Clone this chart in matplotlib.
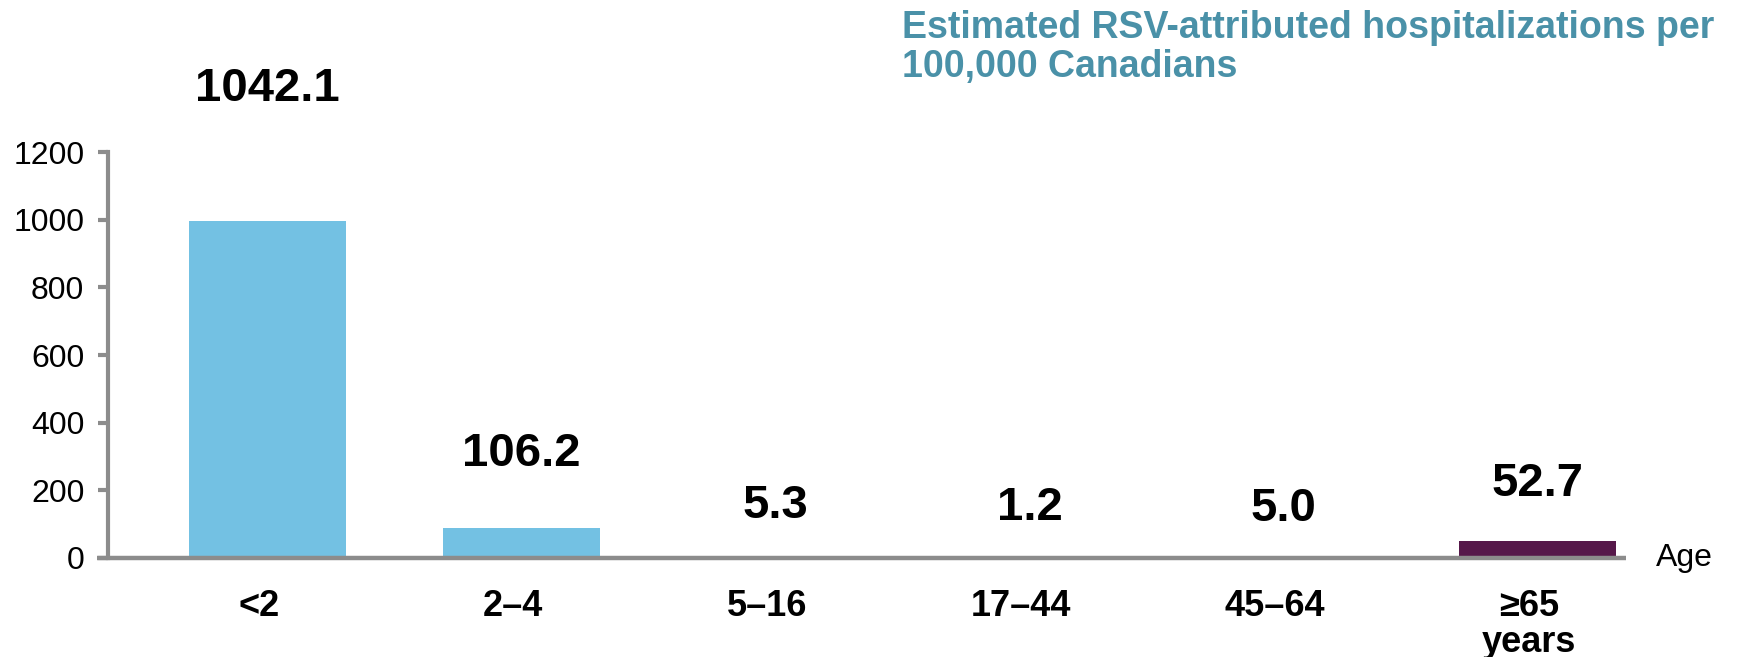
import numpy as np
import matplotlib.pyplot as plt

# age groups and values
age_groups = ["<2", "2\u20134", "5\u201316", "17\u201344", "45\u201364", "\u226565\nyears"]
bar_heights = [995, 89, 5.3, 1.2, 5.0, 50]
value_labels = ["1042.1", "106.2", "5.3", "1.2", "5.0", "52.7"]
bar_colors = ["#73C1E3", "#73C1E3", "#999999", "#999999", "#999999", "#56184A"]
label_offsets = [132, 74, 50, 50, 47, 57]  # px above bar top

AXIS_GRAY = "#8C8C8C"

fig = plt.figure(figsize=(17.5, 6.57), dpi=100)
ax = fig.add_axes([0.0617, 0.1507, 0.8673, 0.6179])

x = np.arange(len(age_groups))
ax.bar(x, bar_heights, width=0.62, color=bar_colors, zorder=2)

ax.set_xlim(-0.627, 5.347)
ax.set_ylim(0, 1200)
ax.set_yticks(np.arange(0, 1201, 200))
ax.tick_params(axis="y", direction="out", length=7, width=3, color=AXIS_GRAY,
               labelsize=23, pad=10)
for lab in ax.get_yticklabels():
    lab.set_fontfamily("Liberation Sans")

ax.set_xticks([])
for s in ["top", "right", "bottom"]:
    ax.spines[s].set_visible(False)
ax.spines["left"].set_color(AXIS_GRAY)
ax.spines["left"].set_linewidth(3)

# x axis line, slightly extending past the y axis
ax.plot([-0.007, 1.0], [0, 0], transform=ax.transAxes, color=AXIS_GRAY,
        lw=3.2, clip_on=False, zorder=3, solid_capstyle="butt")

for xi, h, txt, off in zip(x, bar_heights, value_labels, label_offsets):
    ax.annotate(txt, (xi, h), xytext=(0, off * 0.72), textcoords="offset points",
                ha="center", va="center", fontsize=34, fontweight="bold",
                family="Liberation Sans")

for xi, lab in zip(x, age_groups):
    ax.annotate(lab, (xi, 0), xytext=(-6, -22), textcoords="offset points",
                ha="center", va="top", fontsize=26, fontweight="bold",
                family="Liberation Sans", linespacing=1.05)

ax.text(1.02, 0, "Age", transform=ax.transAxes, ha="left", va="center",
        fontsize=23, family="Liberation Sans")

fig.text(902 / 1750, 1 - 10 / 657,
         "Estimated RSV-attributed hospitalizations per\n100,000 Canadians",
         ha="left", va="top", fontsize=27, fontweight="bold", color="#4A91A8",
         family="Liberation Sans", linespacing=1.12)

fig.savefig("out.png", dpi=100)
